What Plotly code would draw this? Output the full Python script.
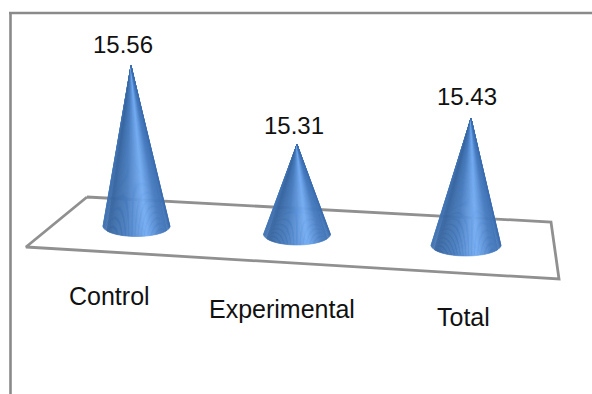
import math
import plotly.graph_objects as go

# Chart data
categories = ["Control", "Experimental", "Total"]
values = [15.56, 15.31, 15.43]

# Value axis: the floor sits at 15.0, and each unit spans this many pixels
FLOOR_VALUE = 15.0
PX_PER_UNIT = 286.0
WIDTH, HEIGHT = 592, 394
FLOOR_ROW = 226.0  # screen row of FLOOR_VALUE on the nearest cone


def to_value(row):
    return FLOOR_VALUE + (FLOOR_ROW - row) / PX_PER_UNIT


# Scene layout for the pseudo-3D cones
base_x = [136.5, 297, 466]
tip_x = [131, 297, 471]
floor_drop = [0, 8, 19]
half_width = [33.5, 33.5, 35]
rim_depth = [10.5, 11, 11]
perspective = [1.0, 1.01, 1.03]
label_x = [109.5, 281.5, 463]
label_row = [296, 309, 317]
value_x = [122.5, 294, 467]
value_row = [44, 125, 96]
floor_corners = [(87, 197), (551, 222), (559, 279), (26, 247), (87, 197)]

# Shading stops across the visible face of a cone, left edge to right edge
shade_stops = [
    (0.00, (70, 122, 188)),
    (0.20, (56, 102, 160)),
    (0.40, (72, 124, 190)),
    (0.60, (116, 172, 242)),
    (0.76, (72, 124, 192)),
    (1.00, (58, 108, 174)),
]


def shade(t):
    for (t0, c0), (t1, c1) in zip(shade_stops, shade_stops[1:]):
        if t <= t1:
            f = (t - t0) / (t1 - t0)
            return "rgb(%d,%d,%d)" % tuple(round(a + (b - a) * f) for a, b in zip(c0, c1))
    return "rgb(%d,%d,%d)" % shade_stops[-1][1]


fig = go.Figure()

# Floor outline
fig.add_trace(go.Scatter(
    x=[c[0] for c in floor_corners],
    y=[to_value(c[1]) for c in floor_corners],
    mode="lines",
    line=dict(color="#909090", width=2.8),
    hoverinfo="skip",
))

# Cones: each one is a fan of thin facets running from the rim to the tip
STRIPS = 70
for i, v in enumerate(values):
    drop = floor_drop[i]
    centre = FLOOR_VALUE - drop / PX_PER_UNIT
    tip = centre + (v - FLOOR_VALUE) * perspective[i]
    for s in range(STRIPS):
        a0 = -math.pi / 2 + math.pi * s / STRIPS
        a1 = -math.pi / 2 + math.pi * (s + 1) / STRIPS
        x0 = base_x[i] + half_width[i] * math.sin(a0)
        x1 = base_x[i] + half_width[i] * math.sin(a1)
        y0 = centre - rim_depth[i] * math.cos(a0) / PX_PER_UNIT
        y1 = centre - rim_depth[i] * math.cos(a1) / PX_PER_UNIT
        colour = shade((s + 0.5) / STRIPS)
        fig.add_trace(go.Scatter(
            x=[tip_x[i], x0, x1, tip_x[i]],
            y=[tip, y0, y1, tip],
            mode="lines",
            fill="toself",
            fillcolor=colour,
            line=dict(color=colour, width=0.6),
            hoverinfo="skip",
        ))

# Value labels above the tips, category labels below the floor
FONT = "Liberation Sans"
for i, v in enumerate(values):
    fig.add_annotation(x=value_x[i], y=to_value(value_row[i]), text=f"{v:.2f}",
                       showarrow=False, font=dict(family=FONT, size=24, color="#111111"))
    fig.add_annotation(x=label_x[i], y=to_value(label_row[i]), text=categories[i],
                       showarrow=False, font=dict(family=FONT, size=25, color="#111111"))

# Chart border: only the top and left edges fall inside the frame
border = dict(color="#8a8a8a", width=2.6)
fig.add_shape(type="line", xref="paper", yref="paper", x0=9 / WIDTH, x1=1,
              y0=1 - 13 / HEIGHT, y1=1 - 13 / HEIGHT, line=border)
fig.add_shape(type="line", xref="paper", yref="paper", x0=10.5 / WIDTH, x1=10.5 / WIDTH,
              y0=0, y1=1 - 13 / HEIGHT, line=border)

fig.update_layout(
    width=WIDTH,
    height=HEIGHT,
    margin=dict(l=0, r=0, t=0, b=0),
    paper_bgcolor="white",
    plot_bgcolor="white",
    showlegend=False,
    xaxis=dict(range=[0, WIDTH], visible=False, fixedrange=True),
    yaxis=dict(range=[to_value(HEIGHT), to_value(0)], visible=False, fixedrange=True),
)

fig.write_html("out.html")
